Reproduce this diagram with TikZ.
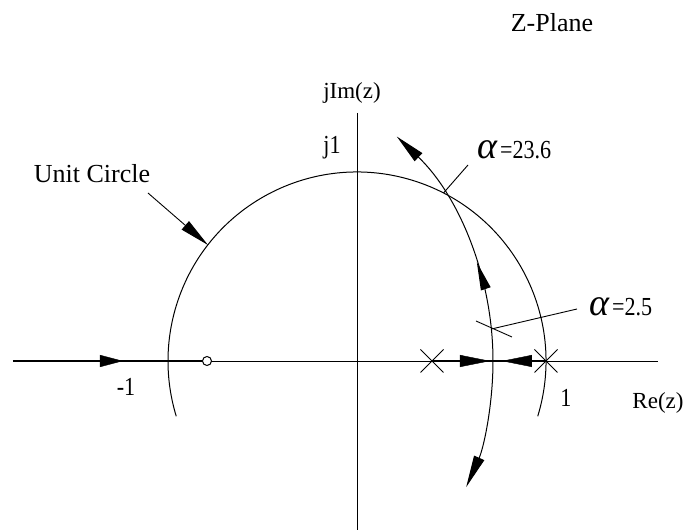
\documentclass[tikz,border=0pt]{standalone}
\usepackage{fontspec}
\setmainfont{Liberation Serif}
\usetikzlibrary{arrows.meta,decorations.markings}
\tikzset{
  axisline/.style={line width=0.9pt},
  curveline/.style={line width=1pt},
  locusthick/.style={line width=1.7pt},
  bigtip/.style={-{Triangle[length=30pt,width=11pt]}},
  lbl/.style={inner sep=0pt, font=\fontsize{22}{22}\selectfont},
  biglbl/.style={inner sep=0pt, font=\fontsize{26}{26}\selectfont},
  polemark/.style={line width=0.9pt},
}
\newcommand{\alfa}{{\fontsize{38}{38}\selectfont\itshape α}}
\newcommand{\numtxt}[1]{\scalebox{0.85}[1]{\fontsize{26}{26}\selectfont #1}}
\begin{document}
\begin{tikzpicture}[x=1pt,y=1pt]
\useasboundingbox (-357,-169) rectangle (329,361);
% key points
\coordinate (O) at (0,0);
\coordinate (axL) at (-344,0);
\coordinate (axR) at (301,0);
\coordinate (axT) at (0,248);
\coordinate (axB) at (0,-169);
\coordinate (zero) at (-150,0);
\coordinate (p1) at (75,0);
\coordinate (p2) at (189,0);
\coordinate (brk) at (136,0);
% axes
\draw[axisline] (zero) -- (axR);
\draw[axisline] (axT) -- (axB);
% real-axis loci
\draw[line width=2.3pt] (axL) -- (zero);
\draw[-{Triangle[length=23pt,width=12pt]}] (-257,0) coordinate (la1) -- (-234,0) coordinate (la2);
\draw[locusthick] (p1) -- (p2);
\draw[-{Triangle[length=30pt,width=12pt]}] (103,0) coordinate (ra1) -- (133,0) coordinate (ra2);
\draw[-{Triangle[length=30pt,width=12pt]}] (175,0) coordinate (ra3) -- (145,0) coordinate (ra4);
% unit circle
\draw[curveline] (O) ++(-17:189) arc[start angle=-17,end angle=197,radius=189];
% root locus circle (centre at (-174,0), radius 310)
\draw[curveline, bigtip,
  postaction={decorate},
  decoration={markings, mark=at position 0.40 with {\arrow{Triangle[length=28pt,width=10pt]}}}]
  (brk) arc[start angle=0,end angle=46.4,radius=310] coordinate (topend);
\draw[curveline, -{Triangle[length=32pt,width=11pt]}]
  (brk) arc[start angle=0,end angle=-24,radius=310] coordinate (botend);
% zero and poles
\draw[line width=1pt, fill=white] (zero) circle (4.5);
\draw[polemark] (p1) +(-11.5,-11.5) -- +(11.5,11.5) (p1) +(-11.5,11.5) -- +(11.5,-11.5);
\draw[polemark] (p2) +(-11.5,-11.5) -- +(11.5,11.5) (p2) +(-11.5,11.5) -- +(11.5,-11.5);
% labels
\node[biglbl] (zplane) at (195,338) {Z-Plane};
\node[biglbl] (ucirc) at (-265,187) {Unit Circle};
\node[lbl, font=\fontsize{23}{23}\selectfont] (jim) at (-5,268) {jIm(z)};
\node[lbl] (j1) at (-25,213) {\numtxt{j1}};
\node[lbl] (m1) at (-231,-26) {\numtxt{-1}};
\node[lbl] (p1l) at (209,-37) {\numtxt{1}};
\node[lbl, font=\fontsize{23}{23}\selectfont] (rez) at (301,-42) {Re(z)};
\node[lbl, anchor=west] (a236) at (120,211) {\alfa\kern3pt\numtxt{=23.6}};
\node[lbl, anchor=west] (a25) at (232,54) {\alfa\kern3pt\numtxt{=2.5}};
% leaders
\coordinate (ucTip) at (-149,116);
\coordinate (ucTail) at (-209,168);
\draw[axisline, bigtip] (ucTail) -- (ucTip);
\coordinate (x236) at (86.5,168);
\coordinate (l236) at (111,196);
\draw[axisline] (x236) -- (l236);
\coordinate (t1) at (119,40);
\coordinate (t2) at (155,24);
\draw[axisline] (t1) -- (t2);
\coordinate (x25) at (134.5,32);
\coordinate (l25) at (220,52);
\draw[axisline] (x25) -- (l25);
\end{tikzpicture}
\end{document}
